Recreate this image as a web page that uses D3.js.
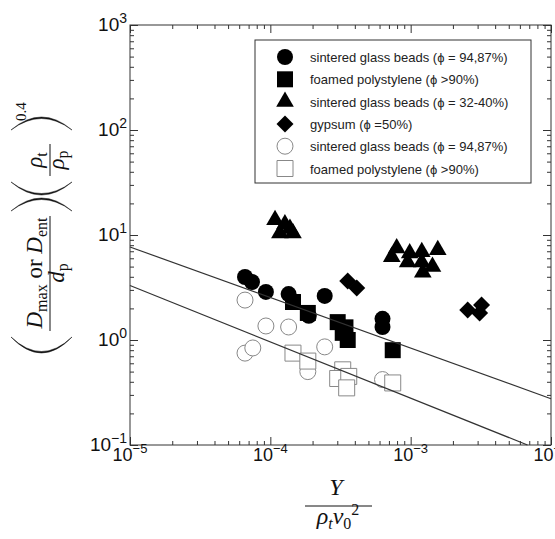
<!DOCTYPE html>
<html>
<head>
<meta charset="utf-8">
<script src="https://cdnjs.cloudflare.com/ajax/libs/d3/7.8.5/d3.min.js"></script>
<style>
body { margin: 0; background: #fff; }
svg { display: block; font-family: "Liberation Sans", Arial, sans-serif; }
.axis path { display: none; }
.axis line { stroke: #333; }
.math { font-family: "Liberation Serif", "Times New Roman", serif; fill: #111; }
</style>
</head>
<body>
<div id="chart"></div>
<script>
// values: [Y/(rho v0^2), D/dp (rho_t/rho_p)^0.4]
var sinteredBeads = [[6.6e-5, 3.98], [7.4e-5, 3.57], [9.3e-5, 2.87], [1.35e-4, 2.74], [1.88e-4, 1.70],
    [2.44e-4, 2.63], [6.3e-4, 1.59], [6.3e-4, 1.33]];
var foamedPoly = [[1.45e-4, 2.30], [1.85e-4, 1.81], [3.02e-4, 1.48], [3.43e-4, 1.32], [3.28e-4, 1.17],
    [3.56e-4, 1.0], [7.45e-4, 0.80]];
var sinteredBeadsLow = [[1.08e-4, 13.9], [1.27e-4, 12.7], [1.38e-4, 11.5], [1.17e-4, 10.4], [1.45e-4, 10.4],
    [7.95e-4, 7.5], [7.33e-4, 6.2], [9.84e-4, 6.7], [9.52e-4, 5.5], [1.2e-3, 6.9], [1.2e-3, 5.5],
    [1.56e-3, 7.2], [1.43e-3, 5.0], [1.22e-3, 4.4]];
var gypsum = [[3.56e-4, 3.65], [4.13e-4, 3.13], [2.55e-3, 1.93], [3.2e-3, 2.15], [3.1e-3, 1.81]];
var sinteredBeadsOpen = [[6.6e-5, 2.40], [9.3e-5, 1.36], [1.35e-4, 1.33], [6.6e-5, 0.75], [7.5e-5, 0.84],
    [2.44e-4, 0.86], [1.85e-4, 0.50], [6.3e-4, 0.42]];
var foamedPolyOpen = [[1.45e-4, 0.75], [1.85e-4, 0.63], [3.28e-4, 0.52], [3.02e-4, 0.43], [3.62e-4, 0.45],
    [3.5e-4, 0.35], [7.45e-4, 0.39]];
var fitLines = [[[1e-5, 7.69], [1e-2, 0.276]], [[1e-5, 3.3], [6.8e-3, 0.1]]];

var legendLabels = ["sintered glass beads (\u03d5 = 94,87%)", "foamed polystylene (\u03d5 >90%)",
    "sintered glass beads (\u03d5 = 32-40%)", "gypsum (\u03d5 =50%)",
    "sintered glass beads (\u03d5 = 94,87%)", "foamed polystylene (\u03d5 >90%)"];
var xMajor = [1e-5, 1e-4, 1e-3, 1e-2];
var xExp = ["\u22125", "\u22124", "\u22123", "\u22122"];
var yMajor = [1e-1, 1, 10, 100, 1000];
var yExp = ["\u22121", "0", "1", "2", "3"];

var plotLeft = 130, plotRight = 551, plotTop = 25, plotBottom = 445;

var svg = d3.select("#chart").append("svg")
    .attr("width", 555)
    .attr("height", 539);

var x = d3.scaleLog().domain([1e-5, 1e-2]).range([plotLeft, plotRight]);
var y = d3.scaleLog().domain([0.1, 1000]).range([plotBottom, plotTop]);

function isMajor(v) {
    var l = Math.log10(v);
    return Math.abs(l - Math.round(l)) < 1e-6;
}
var xMinor = x.ticks().filter(function (v) { return !isMajor(v); });
var yMinor = y.ticks().filter(function (v) { return !isMajor(v); });

// ticks on all four sides, pointing inward
function addAxis(axis, tx, ty) {
    svg.append("g").attr("class", "axis")
        .attr("transform", "translate(" + tx + "," + ty + ")")
        .call(axis);
}
addAxis(d3.axisBottom(x).tickValues(xMinor).tickSize(-4).tickFormat(""), 0, plotBottom);
addAxis(d3.axisBottom(x).tickValues(xMajor).tickSize(-8).tickFormat(""), 0, plotBottom);
addAxis(d3.axisTop(x).tickValues(xMinor).tickSize(-4).tickFormat(""), 0, plotTop);
addAxis(d3.axisTop(x).tickValues(xMajor).tickSize(-8).tickFormat(""), 0, plotTop);
addAxis(d3.axisLeft(y).tickValues(yMinor).tickSize(-4).tickFormat(""), plotLeft, 0);
addAxis(d3.axisLeft(y).tickValues(yMajor).tickSize(-8).tickFormat(""), plotLeft, 0);
addAxis(d3.axisRight(y).tickValues(yMinor).tickSize(-4).tickFormat(""), plotRight, 0);
addAxis(d3.axisRight(y).tickValues(yMajor).tickSize(-8).tickFormat(""), plotRight, 0);

svg.append("rect")
    .attr("x", plotLeft).attr("y", plotTop)
    .attr("width", plotRight - plotLeft).attr("height", plotBottom - plotTop)
    .attr("fill", "none").attr("stroke", "#333").attr("stroke-width", 1);

// tick labels
var xl = svg.selectAll(".xlab").data(xMajor).enter().append("text")
    .attr("class", "xlab")
    .attr("x", function (d) { return x(d); })
    .attr("y", 461)
    .attr("text-anchor", "middle")
    .attr("font-size", 18)
    .attr("fill", "#111");
xl.append("tspan").text("10");
xl.append("tspan").attr("dy", -8).attr("font-size", 13).text(function (d, i) { return xExp[i]; });

var yl = svg.selectAll(".ylab").data(yMajor).enter().append("text")
    .attr("class", "ylab")
    .attr("x", 127)
    .attr("y", function (d) { return y(d) + 6; })
    .attr("text-anchor", "end")
    .attr("font-size", 19)
    .attr("fill", "#111");
yl.append("tspan").text("10");
yl.append("tspan").attr("dy", -8).attr("font-size", 14).text(function (d, i) { return yExp[i]; });

// markers
var circle = d3.symbol().type(d3.symbolCircle).size(201);
var square = d3.symbol().type(d3.symbolSquare).size(256);
var triangle = d3.symbol().type(d3.symbolTriangle).size(135);
var diamond = d3.symbol().type(d3.symbolSquare).size(144);

var series = [
    { data: sinteredBeadsOpen, sym: circle, fill: "#fff", stroke: "#888", rot: 0 },
    { data: foamedPolyOpen, sym: square, fill: "#fff", stroke: "#888", rot: 0 },
    { data: sinteredBeads, sym: circle, fill: "#000", stroke: "none", rot: 0 },
    { data: foamedPoly, sym: square, fill: "#000", stroke: "none", rot: 0 },
    { data: sinteredBeadsLow, sym: triangle, fill: "#000", stroke: "none", rot: 0 },
    { data: gypsum, sym: diamond, fill: "#000", stroke: "none", rot: 45 }
];

series.forEach(function (s) {
    svg.append("g").selectAll("path")
        .data(s.data)
        .enter()
        .append("path")
        .attr("d", s.sym)
        .attr("transform", function (d) {
            return "translate(" + x(d[0]) + "," + y(d[1]) + ") rotate(" + s.rot + ")";
        })
        .attr("fill", s.fill)
        .attr("stroke", s.stroke)
        .attr("stroke-width", 1);
});

var line = d3.line()
    .x(function (d) { return x(d[0]); })
    .y(function (d) { return y(d[1]); });
svg.selectAll(".fit").data(fitLines).enter().append("path")
    .attr("class", "fit")
    .attr("d", line)
    .attr("fill", "none")
    .attr("stroke", "#333")
    .attr("stroke-width", 1.2);

// legend
var legend = svg.append("g").attr("transform", "translate(255,40)");
legend.append("rect")
    .attr("width", 276).attr("height", 143)
    .attr("fill", "#fff").attr("stroke", "#333").attr("stroke-width", 1);
var legendSyms = [circle, square, triangle, diamond, circle, square];
var rows = legend.selectAll(".row").data(legendLabels).enter().append("g")
    .attr("class", "row")
    .attr("transform", function (d, i) { return "translate(0," + (17 + i * 22.3) + ")"; });
rows.append("path")
    .attr("d", function (d, i) { return legendSyms[i](); })
    .attr("transform", function (d, i) { return "translate(30,0) rotate(" + (i == 3 ? 45 : 0) + ")"; })
    .attr("fill", function (d, i) { return i < 4 ? "#000" : "#fff"; })
    .attr("stroke", function (d, i) { return i < 4 ? "none" : "#888"; });
rows.append("text")
    .attr("x", 55)
    .attr("y", 5)
    .attr("font-size", 13)
    .attr("fill", "#222")
    .text(function (d) { return d; });

// y axis title, drawn rotated; local u = -globalY, v = globalX
var yt = svg.append("g").attr("class", "math").attr("transform", "rotate(-90)");

function paren(g, uEnd, uMid, open) {
    var v0 = 11, v1 = 72, vm = (v0 + v1) / 2;
    var k = open ? -1 : 1;
    var c1 = uMid + k * (Math.abs(uMid - uEnd) * 1.0);
    var c2 = c1 - k * 3;
    g.append("path")
        .attr("d", "M" + uEnd + "," + v0 + "Q" + c1 + "," + vm + " " + uEnd + "," + v1 +
            "Q" + c2 + "," + vm + " " + uEnd + "," + v0 + "Z")
        .attr("fill", "#111").attr("stroke", "#111").attr("stroke-width", 0.5);
}

paren(yt, -337, -353, true);
var n1 = yt.append("text").attr("x", -273).attr("y", 42).attr("text-anchor", "middle").attr("font-size", 23);
n1.append("tspan").attr("font-style", "italic").text("D");
n1.append("tspan").attr("font-size", 16).attr("dy", 5).text("max");
n1.append("tspan").attr("dy", -5).text(" or ");
n1.append("tspan").attr("font-style", "italic").text("D");
n1.append("tspan").attr("font-size", 16).attr("dy", 5).text("ent");
yt.append("line").attr("x1", -331).attr("x2", -216).attr("y1", 50).attr("y2", 50)
    .attr("stroke", "#111").attr("stroke-width", 1);
var d1 = yt.append("text").attr("x", -273).attr("y", 64).attr("text-anchor", "middle").attr("font-size", 23);
d1.append("tspan").attr("font-style", "italic").text("d");
d1.append("tspan").attr("font-size", 16).attr("dy", 4).text("p");
paren(yt, -211, -198, false);

paren(yt, -182, -195, true);
var n2 = yt.append("text").attr("x", -160).attr("y", 42).attr("text-anchor", "middle").attr("font-size", 23);
n2.append("tspan").attr("font-style", "italic").text("\u03c1");
n2.append("tspan").attr("font-size", 16).attr("dy", 5).text("t");
yt.append("line").attr("x1", -176).attr("x2", -144).attr("y1", 50).attr("y2", 50)
    .attr("stroke", "#111").attr("stroke-width", 1);
var d2 = yt.append("text").attr("x", -160).attr("y", 64).attr("text-anchor", "middle").attr("font-size", 23);
d2.append("tspan").attr("font-style", "italic").text("\u03c1");
d2.append("tspan").attr("font-size", 16).attr("dy", 4).text("p");
paren(yt, -130, -117, false);
yt.append("text").attr("x", -121).attr("y", 26).attr("font-size", 15).text("0.4");

// x axis title
var xt = svg.append("g").attr("class", "math");
xt.append("text").attr("x", 336).attr("y", 495).attr("text-anchor", "middle")
    .attr("font-size", 24).attr("font-style", "italic").text("Y");
xt.append("line").attr("x1", 305).attr("x2", 372).attr("y1", 506).attr("y2", 506)
    .attr("stroke", "#111").attr("stroke-width", 1);
var dx = xt.append("text").attr("x", 338).attr("y", 524).attr("text-anchor", "middle").attr("font-size", 24);
dx.append("tspan").attr("font-style", "italic").text("\u03c1");
dx.append("tspan").attr("font-style", "italic").attr("font-size", 16).attr("dy", 5).text("t");
dx.append("tspan").attr("font-style", "italic").attr("dy", -5).text("v");
dx.append("tspan").attr("font-size", 16).attr("dy", 5).text("0");
dx.append("tspan").attr("font-size", 16).attr("dy", -14).text("2");
</script>
</body>
</html>
